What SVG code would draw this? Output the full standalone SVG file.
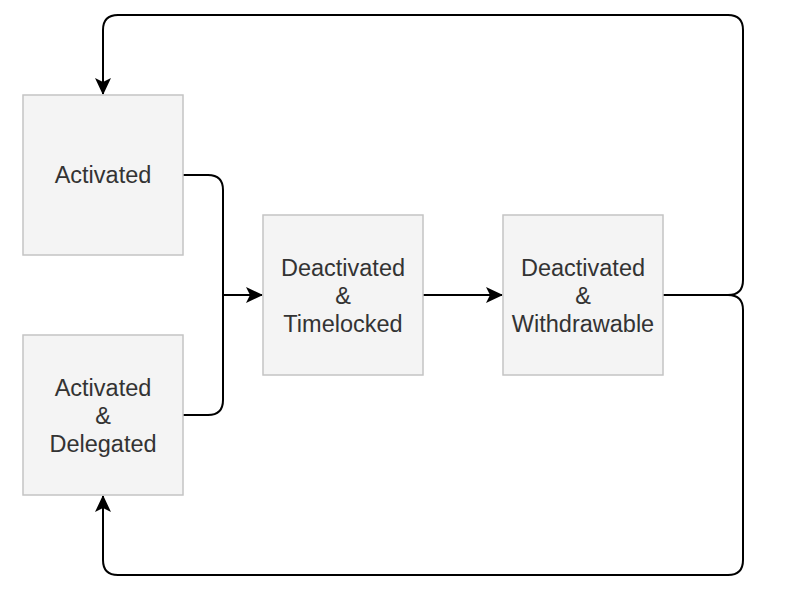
<svg xmlns="http://www.w3.org/2000/svg" width="796" height="600" viewBox="0 0 796 600">
<style>
.box{fill:#f4f4f4;stroke:#c4c4c4;stroke-width:1.5}
.lbl{font-family:"Liberation Sans",Arial,sans-serif;font-size:23.5px;fill:#333;text-anchor:middle}
.edge{fill:none;stroke:#000;stroke-width:2}
</style>
<defs>
<marker id="arr" markerWidth="17" markerHeight="16" viewBox="0 0 17 16" refX="16" refY="8" orient="auto" markerUnits="userSpaceOnUse">
<path d="M0,0 L17,8 L0,16 L4,8 Z" fill="#000"/>
</marker>
</defs>
<rect width="796" height="600" fill="#fff"/>
<g id="connectors">
<path class="edge" d="M183,175 H208 Q223,175 223,190 V400 Q223,415 208,415 H183"/>
<path class="edge" d="M223,295 H262" marker-end="url(#arr)"/>
<path class="edge" d="M423,295 H502" marker-end="url(#arr)"/>
<path class="edge" d="M663,295 H728 Q743,295 743,280 V30 Q743,15 728,15 H118 Q103,15 103,30 V94" marker-end="url(#arr)"/>
<path class="edge" d="M663,295 H728 Q743,295 743,310 V560 Q743,575 728,575 H118 Q103,575 103,560 V496" marker-end="url(#arr)"/>
</g>
<g id="activated">
<rect class="box" x="23" y="95" width="160" height="160"/>
<text class="lbl" x="103" y="183">Activated</text>
</g>
<g id="activated-delegated">
<rect class="box" x="23" y="335" width="160" height="160"/>
<text class="lbl" x="103" y="396">Activated</text>
<text class="lbl" x="103" y="424">&amp;</text>
<text class="lbl" x="103" y="452">Delegated</text>
</g>
<g id="deactivated-timelocked">
<rect class="box" x="263" y="215" width="160" height="160"/>
<text class="lbl" x="343" y="276">Deactivated</text>
<text class="lbl" x="343" y="304">&amp;</text>
<text class="lbl" x="343" y="332">Timelocked</text>
</g>
<g id="deactivated-withdrawable">
<rect class="box" x="503" y="215" width="160" height="160"/>
<text class="lbl" x="583" y="276">Deactivated</text>
<text class="lbl" x="583" y="304">&amp;</text>
<text class="lbl" x="583" y="332">Withdrawable</text>
</g>
</svg>
